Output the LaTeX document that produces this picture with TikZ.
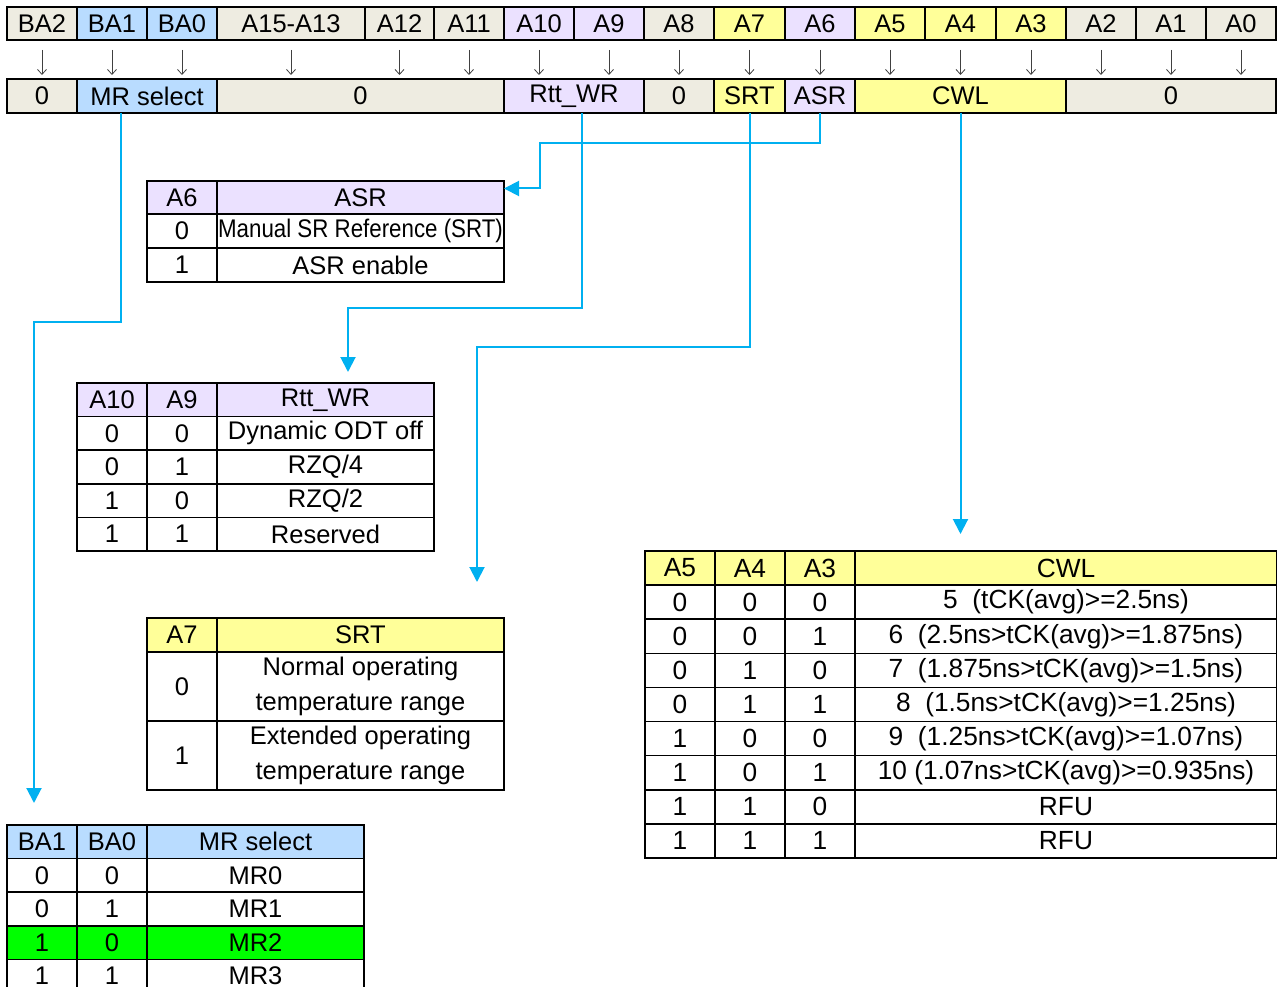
\documentclass[tikz,border=0pt]{standalone}
\usepackage{fontspec}
\usepackage{graphicx}
\setmainfont{Liberation Sans}
\newfontfamily\narrowfont[FakeStretch=0.875]{Liberation Sans}
\usepackage{tikz}
\usetikzlibrary{arrows.meta, positioning}

\definecolor{bitgray}{HTML}{EEECE1}
\definecolor{bitblue}{HTML}{B9DCFF}
\definecolor{bitlav}{HTML}{EBE1FF}
\definecolor{bityel}{HTML}{FFFF99}
\definecolor{linkcyan}{HTML}{00B0F0}
\definecolor{mrgreen}{HTML}{00FF00}

\tikzset{
  cell/.style={draw, rectangle, line width=1.6pt, anchor=north west, inner sep=0pt, outer sep=0pt,
    align=center, minimum height=34pt, font=\fontsize{25.5}{34.5}\selectfont},
  widecell/.style={cell, font=\fontsize{26.3}{34.5}\selectfont},
  bitarrow/.style={draw=black!75, line width=0.8pt, -{Straight Barb[length=5pt,width=9pt]},
    shorten <=10pt, shorten >=4pt},
  link/.style={draw=linkcyan, line width=2pt, -{Triangle[length=15pt,width=15pt]}}
}

\begin{document}
\begin{tikzpicture}[x=1pt, y=-1pt]

    \clip (0,0) rectangle (1277,987);

    % Register bits
    \foreach \n/\x/\w/\c [count=\i] in {BA2/7/70/bitgray, BA1/77/70/bitblue, BA0/147/70/bitblue,
        A15-A13/217/148/bitgray, A12/365/69/bitgray, A11/434/70/bitgray, A10/504/70/bitlav,
        A9/574/70/bitlav, A8/644/70/bitgray, A7/714/71/bityel, A6/785/70/bitlav, A5/855/70/bityel,
        A4/925/71/bityel, A3/996/70/bityel, A2/1066/70/bitgray, A1/1136/70/bitgray, A0/1206/70/bitgray}
        \node (bit\i) [cell, fill=\c, minimum width=\w, minimum height=33pt] at (\x,7) {\n};

    % Fields of the register
    \foreach \n/\x/\w/\c [count=\i] in {0/7/70/bitgray, MR select/77/140/bitblue, 0/217/287/bitgray,
        Rtt\_WR/504/140/bitlav, 0/644/70/bitgray, SRT/714/71/bityel, ASR/785/70/bitlav,
        CWL/855/211/bityel, 0/1066/210/bitgray}
        \node (fld\i) [cell, fill=\c, minimum width=\w] at (\x,79) {\n};

    % Small arrows from bits to fields
    \foreach \i in {1,...,17}
        \draw[bitarrow] (bit\i.south) -- (bit\i.south |- fld1.north);

    % ASR table
    \node (asrA) [cell, fill=bitlav, minimum width=70, minimum height=33pt] at (147,181) {A6};
    \node (asrH) [cell, fill=bitlav, minimum width=287, minimum height=33pt] at (217,181) {ASR};
    \foreach \v/\t [count=\r] in {0/{\narrowfont Manual SR Reference (SRT)}, 1/ASR enable} {
        \node (asrv\r) [cell, minimum width=70] at (147,{180+34*\r}) {\v};
        \node (asrt\r) [cell, minimum width=287] at (217,{180+34*\r}) {\t};
    }

    % Rtt_WR table
    \node (rttA) [cell, fill=bitlav, minimum width=70, minimum height=33.6pt] at (77,383) {A10};
    \node (rttB) [cell, fill=bitlav, minimum width=70, minimum height=33.6pt] at (147,383) {A9};
    \node (rttH) [cell, fill=bitlav, minimum width=217, minimum height=33.6pt] at (217,383) {Rtt\_WR};
    \foreach \a/\b/\t [count=\r] in {0/0/Dynamic ODT off, 0/1/{RZQ/4}, 1/0/{RZQ/2}, 1/1/Reserved} {
        \node (rtta\r) [cell, minimum width=70, minimum height=33.6pt] at (77,{383+33.6*\r}) {\a};
        \node (rttb\r) [cell, minimum width=70, minimum height=33.6pt] at (147,{383+33.6*\r}) {\b};
        \node (rttt\r) [cell, minimum width=217, minimum height=33.6pt] at (217,{383+33.6*\r}) {\t};
    }

    % SRT table
    \node (srtA) [cell, fill=bityel, minimum width=70] at (147,618) {A7};
    \node (srtH) [cell, fill=bityel, minimum width=287] at (217,618) {SRT};
    \foreach \v/\t [count=\r] in {0/{Normal operating\\temperature range}, 1/{Extended operating\\temperature range}} {
        \node (srtv\r) [cell, minimum width=70, minimum height=69pt] at (147,{583+69*\r}) {\v};
        \node (srtt\r) [cell, minimum width=287, minimum height=69pt] at (217,{583+69*\r}) {\t};
    }

    % MR select table
    \node (mrA) [cell, fill=bitblue, minimum width=70, minimum height=33.6pt] at (7,825) {BA1};
    \node (mrB) [cell, fill=bitblue, minimum width=70, minimum height=33.6pt] at (77,825) {BA0};
    \node (mrH) [cell, fill=bitblue, minimum width=217, minimum height=33.6pt] at (147,825) {MR select};
    \foreach \a/\b/\t/\c [count=\r] in {0/0/MR0/white, 0/1/MR1/white, 1/0/MR2/mrgreen, 1/1/MR3/white} {
        \node (mra\r) [cell, fill=\c, minimum width=70, minimum height=33.6pt] at (7,{825+33.6*\r}) {\a};
        \node (mrb\r) [cell, fill=\c, minimum width=70, minimum height=33.6pt] at (77,{825+33.6*\r}) {\b};
        \node (mrt\r) [cell, fill=\c, minimum width=217, minimum height=33.6pt] at (147,{825+33.6*\r}) {\t};
    }

    % CWL table
    \node (cwlA) [widecell, fill=bityel, minimum width=70, minimum height=34.1pt] at (645,551) {A5};
    \node (cwlB) [widecell, fill=bityel, minimum width=70, minimum height=34.1pt] at (715,551) {A4};
    \node (cwlC) [widecell, fill=bityel, minimum width=70, minimum height=34.1pt] at (785,551) {A3};
    \node (cwlH) [widecell, fill=bityel, minimum width=422, minimum height=34.1pt] at (855,551) {CWL};
    \foreach \a/\b/\c/\t [count=\r] in {0/0/0/{5\ \ (tCK(avg)>=2.5ns)}, 0/0/1/{6\ \ (2.5ns>tCK(avg)>=1.875ns)},
        0/1/0/{7\ \ (1.875ns>tCK(avg)>=1.5ns)}, 0/1/1/{8\ \ (1.5ns>tCK(avg)>=1.25ns)},
        1/0/0/{9\ \ (1.25ns>tCK(avg)>=1.07ns)}, 1/0/1/{10 (1.07ns>tCK(avg)>=0.935ns)},
        1/1/0/RFU, 1/1/1/RFU} {
        \node (cwla\r) [widecell, minimum width=70, minimum height=34.1pt] at (645,{551+34.1*\r}) {\a};
        \node (cwlb\r) [widecell, minimum width=70, minimum height=34.1pt] at (715,{551+34.1*\r}) {\b};
        \node (cwlc\r) [widecell, minimum width=70, minimum height=34.1pt] at (785,{551+34.1*\r}) {\c};
        \node (cwlt\r) [widecell, minimum width=422, minimum height=34.1pt] at (855,{551+34.1*\r}) {\t};
    }

    % Links from fields to their tables
    \draw[link] (fld7.south) |- (540,143) |- ([yshift=9pt]asrH.east);
    \draw[link] ([xshift=8pt]fld4.south) |- (348,308) -- ([xshift=22.5pt]rttH.north) [shorten >=11pt];
    \draw[link] (fld6.south) |- (477,347) -- ([xshift=-27pt]srtH.north east) [shorten >=36pt];
    \draw[link] (fld8.south) -- (fld8.south |- cwlH.north) [shorten >=17pt];
    \draw[link] ([xshift=-26pt]fld2.south) |- (34,322) -- ([xshift=-8pt]mrA.north) [shorten >=22pt];

\end{tikzpicture}
\end{document}
